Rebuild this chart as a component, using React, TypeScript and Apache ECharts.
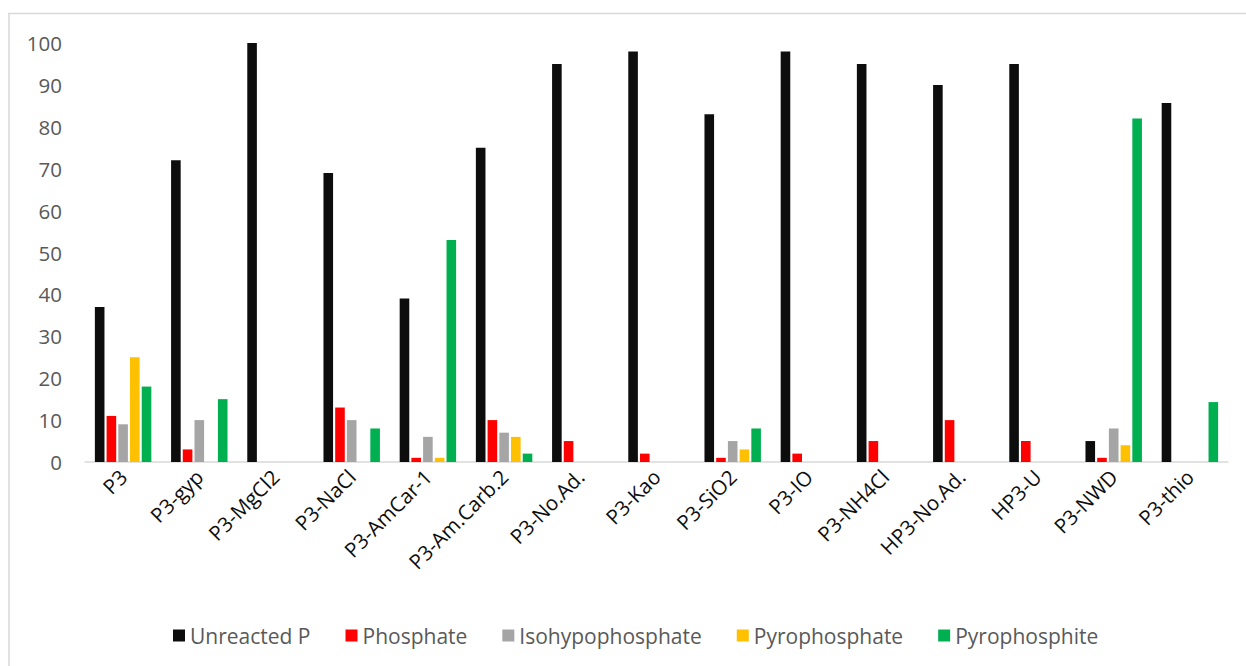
import React, { useEffect, useRef } from "react";
import * as echarts from "echarts";

// Samples along the category axis
const categories = [
  "P3",
  "P3-gyp",
  "P3-MgCl2",
  "P3-NaCl",
  "P3-AmCar-1",
  "P3-Am.Carb.2",
  "P3-No.Ad.",
  "P3-Kao",
  "P3-SiO2",
  "P3-IO",
  "P3-NH4Cl",
  "HP3-No.Ad.",
  "HP3-U",
  "P3-NWD",
  "P3-thio",
];

// Percentage of each P species per sample
const unreactedP = [37, 72, 100, 69, 39, 75, 95, 98, 83, 98, 95, 90, 95, 5, 85.7];
const phosphate = [11, 3, 0, 13, 1, 10, 5, 2, 1, 2, 5, 10, 5, 1, 0];
const isohypophosphate = [9, 10, 0, 10, 6, 7, 0, 0, 5, 0, 0, 0, 0, 8, 0];
const pyrophosphate = [25, 0, 0, 0, 1, 6, 0, 0, 3, 0, 0, 0, 0, 4, 0];
const pyrophosphite = [18, 15, 0, 8, 53, 2, 0, 0, 8, 0, 0, 0, 0, 82, 14.3];

const seriesNames = [
  "Unreacted P",
  "Phosphate",
  "Isohypophosphate",
  "Pyrophosphate",
  "Pyrophosphite",
];
const seriesColors = ["#0d0d0d", "#ff0000", "#a5a5a5", "#ffc000", "#00b050"];
const seriesData = [unreactedP, phosphate, isohypophosphate, pyrophosphate, pyrophosphite];

// Y axis range
const yMin = 0;
const yMax = 100;
const yStep = 10;

const FONT = "'Open Sans', 'Noto Sans', sans-serif";

export default function App() {
  const ref = useRef<HTMLDivElement>(null);

  useEffect(() => {
    if (!ref.current) return;
    const chart = echarts.init(ref.current, null, { renderer: "svg" });

    const series = seriesNames.map((name, i) => ({
      name,
      type: "bar" as const,
      data: seriesData[i].map((v) => (v === 0 ? null : v)),
      barWidth: 9.6,
      barGap: "22%",
      itemStyle: { color: seriesColors[i] },
    }));

    chart.setOption({
      animation: false,
      backgroundColor: "#ffffff",
      grid: { left: 85, right: 18, top: 43, bottom: 204, containLabel: false },
      xAxis: {
        type: "category",
        data: categories,
        axisLine: { show: true, lineStyle: { color: "#d9d9d9", width: 1.5 } },
        axisTick: { show: false },
        axisLabel: {
          rotate: 45,
          interval: 0,
          margin: 11,
          fontFamily: FONT,
          fontSize: 20.5,
          color: "#0d0d0d",
        },
        splitLine: { show: false },
      },
      yAxis: {
        type: "value",
        min: yMin,
        max: yMax,
        interval: yStep,
        axisLine: { show: false },
        axisTick: { show: false },
        splitLine: { show: false },
        axisLabel: {
          margin: 23,
          fontFamily: FONT,
          fontSize: 20.5,
          color: "#595959",
        },
      },
      legend: {
        data: seriesNames,
        left: 168,
        top: 620,
        itemWidth: 12,
        itemHeight: 12,
        itemGap: 35,
        icon: "rect",
        textStyle: { fontFamily: FONT, fontSize: 21, color: "#595959" },
      },
      graphic: [
        {
          type: "line",
          shape: { x1: 8, y1: 13.5, x2: 1246, y2: 13.5 },
          style: { stroke: "#d9d9d9", lineWidth: 1.5 },
          silent: true,
        },
        {
          type: "line",
          shape: { x1: 9, y1: 13, x2: 9, y2: 666 },
          style: { stroke: "#d9d9d9", lineWidth: 1.5 },
          silent: true,
        },
      ],
      series,
    });

    return () => chart.dispose();
  }, []);

  return (
    <div
      ref={ref}
      style={{ position: "fixed", left: 0, top: 0, width: 1246, height: 666 }}
    />
  );
}
